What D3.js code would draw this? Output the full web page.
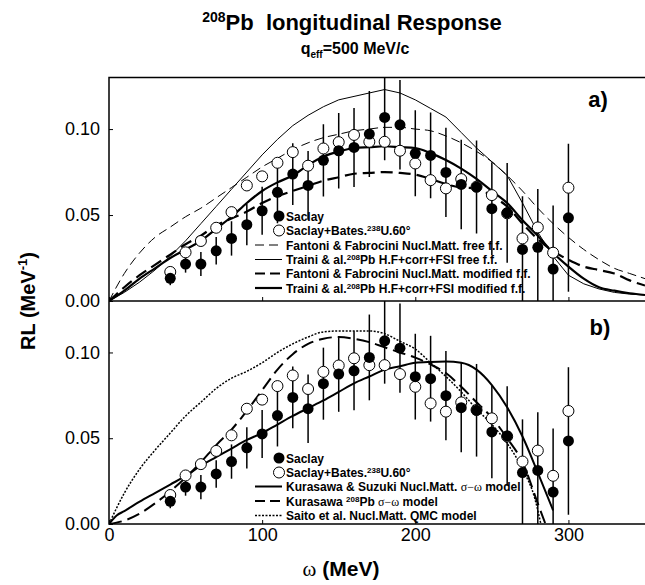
<!DOCTYPE html>
<html>
<head>
<meta charset="utf-8">
<script src="https://cdn.jsdelivr.net/npm/d3@7"></script>
<style>
  body { margin: 0; background: #fff; }
  svg { display: block; font-family: "Liberation Sans", Arial, sans-serif; }
</style>
</head>
<body>
<svg id="chart" width="645" height="585"></svg>
<script>
// --- data ---
const omega = [40, 50, 60, 70, 80, 90, 100, 110, 120, 130, 140, 150, 160, 170, 180,
               190, 200, 210, 220, 230, 240, 250, 260, 270, 280, 290, 300];
const saclay = [0.0132, 0.0215, 0.0215, 0.0292, 0.0364, 0.0444, 0.0525, 0.0632, 0.0738,
                0.0672, 0.0818, 0.0874, 0.0893, 0.0971, 0.1068, 0.1025, 0.0859, 0.0847,
                0.0748, 0.0678, 0.0663, 0.0537, 0.0513, 0.0300, 0.0312, 0.0186, 0.0484];
const saclayErr = [0.004, 0.005, 0.007, 0.008, 0.010, 0.012, 0.014, 0.018, 0.018, 0.020,
                   0.021, 0.022, 0.023, 0.025, 0.025, 0.026, 0.025, 0.025, 0.026, 0.026,
                   0.027, 0.027, 0.029, 0.031, 0.034, 0.037, 0.043];
const bates = [0.0169, 0.0283, 0.0349, 0.0426, 0.0517, 0.0672, 0.0725, 0.0804, 0.0866,
               0.0787, 0.0887, 0.0924, 0.0966, 0.0926, 0.0926, 0.0874, 0.0800, 0.0703,
               0.0655, 0.0709, 0.0665, 0.0616, 0.0510, 0.0364, 0.0428, 0.0281, 0.0659];

// theory curves, panel a
const gridA = [0, 10, 20, 30, 40, 50, 60, 70, 80, 90, 100, 110, 120, 130, 140, 150, 160, 170,
               180, 190, 200, 210, 220, 230, 240, 250, 260, 270, 280, 290, 300, 310, 320, 330, 340, 350];
const fantoniFree = [0, 0.016, 0.028, 0.037, 0.043, 0.049, 0.054, 0.060, 0.066, 0.072, 0.078, 0.083,
                     0.088, 0.092, 0.095, 0.097, 0.099, 0.100, 0.101, 0.101, 0.100, 0.099, 0.096, 0.092,
                     0.087, 0.081, 0.073, 0.064, 0.054, 0.045, 0.037, 0.030, 0.024, 0.019, 0.016, 0.013];
const trainiFree = [0, 0.005, 0.011, 0.018, 0.026, 0.035, 0.045, 0.055, 0.065, 0.075, 0.085, 0.094,
                    0.102, 0.108, 0.113, 0.117, 0.119, 0.121, 0.123, 0.121, 0.117, 0.112, 0.107, 0.098,
                    0.089, 0.081, 0.073, 0.057, 0.040, 0.026, 0.015, 0.010, 0.007, 0.005, 0.004, 0.0035];
const fantoniMod = [0, 0.008, 0.015, 0.021, 0.027, 0.033, 0.038, 0.044, 0.048, 0.052, 0.057, 0.061,
                    0.064, 0.067, 0.070, 0.072, 0.074, 0.0745, 0.075, 0.0745, 0.0735, 0.071, 0.068, 0.066,
                    0.0655, 0.061, 0.055, 0.045, 0.036, 0.029, 0.024, 0.020, 0.018, 0.016, 0.012, 0.009];
const trainiMod = [0, 0.006, 0.013, 0.019, 0.025, 0.030, 0.035, 0.042, 0.049, 0.057, 0.064, 0.069,
                   0.073, 0.079, 0.084, 0.087, 0.089, 0.0895, 0.090, 0.0895, 0.089, 0.086, 0.082, 0.077,
                   0.071, 0.064, 0.057, 0.047, 0.038, 0.028, 0.020, 0.013, 0.008, 0.006, 0.0045, 0.0035];

// theory curves, panel b
const gridKS = [0, 5, 10, 20, 30, 40, 50, 60, 70, 80, 90, 100, 110, 120, 130, 140, 150, 160, 170,
                180, 190, 200, 210, 220, 230, 240, 250, 260, 270, 280, 290];
const kurasawaSuzuki = [0, 0.005, 0.0075, 0.013, 0.018, 0.023, 0.028, 0.034, 0.039, 0.044, 0.049,
                        0.053, 0.058, 0.063, 0.0675, 0.072, 0.077, 0.082, 0.086, 0.090, 0.092, 0.094,
                        0.0945, 0.0947, 0.094, 0.090, 0.081, 0.068, 0.051, 0.030, 0.008];
const gridKP = [0, 10, 20, 30, 40, 50, 60, 70, 80, 90, 100, 110, 120, 130, 140, 150, 160, 170, 180,
                190, 200, 210, 220, 230, 240, 250, 260, 270, 280, 285];
const kurasawaPb = [0, 0.002, 0.006, 0.012, 0.019, 0.027, 0.036, 0.046, 0.055, 0.066, 0.078, 0.090,
                    0.099, 0.105, 0.108, 0.109, 0.108, 0.106, 0.103, 0.100, 0.097, 0.093, 0.088, 0.080,
                    0.071, 0.062, 0.050, 0.036, 0.012, 0];
const gridSaito = [0, 10, 20, 30, 40, 50, 60, 70, 80, 90, 100, 110, 120, 130, 140, 150, 160, 170, 180,
                   190, 200, 210, 220, 230, 240, 250, 260, 270, 278, 282];
const saito = [0, 0.018, 0.032, 0.043, 0.053, 0.063, 0.071, 0.079, 0.085, 0.089, 0.094, 0.100, 0.105,
               0.109, 0.112, 0.1125, 0.1125, 0.1125, 0.111, 0.1065, 0.102, 0.094, 0.086, 0.077, 0.067,
               0.058, 0.047, 0.032, 0.015, 0];

const yTicks = [0, 0.05, 0.10];
const xTicks = [0, 100, 200, 300];

// --- layout ---
const svg = d3.select('#chart');
const left = 109, right = 645;
const x = d3.scaleLinear().domain([0, 350]).range([left, right]);
const yA = d3.scaleLinear().domain([0, 0.13]).range([301, 77.5]);
const yB = d3.scaleLinear().domain([0, 0.13]).range([524, 301]);

svg.append('clipPath').attr('id', 'clipA')
  .append('rect').attr('x', left).attr('y', 77.5).attr('width', right - left).attr('height', 301 - 77.5);
svg.append('clipPath').attr('id', 'clipB')
  .append('rect').attr('x', left).attr('y', 301).attr('width', right - left).attr('height', 223);

const pts = omega.map((w, i) => ({ w, s: saclay[i], e: saclayErr[i], b: bates[i] }));
const zip = (g, v) => g.map((w, i) => [w, v[i]]);

function drawPanel(y, clipId, curves) {
  const g = svg.append('g').attr('clip-path', `url(#${clipId})`);
  curves.forEach(c => {
    const line = d3.line().x(d => x(d[0])).y(d => y(d[1]))
      .curve(c.linear ? d3.curveLinear : d3.curveMonotoneX);
    g.append('path').datum(c.data)
      .attr('d', line)
      .attr('fill', 'none')
      .attr('stroke', '#000')
      .attr('stroke-width', c.width)
      .attr('stroke-dasharray', c.dash || null);
  });
  // error bars (Saclay)
  g.selectAll('.err').data(pts).enter().append('line')
    .attr('x1', d => x(d.w)).attr('x2', d => x(d.w))
    .attr('y1', d => y(d.s - d.e)).attr('y2', d => y(d.s + d.e))
    .attr('stroke', '#000').attr('stroke-width', 1.5);
  g.selectAll('.open').data(pts).enter().append('circle')
    .attr('cx', d => x(d.w)).attr('cy', d => y(d.b)).attr('r', 5.5)
    .attr('fill', '#fff').attr('stroke', '#000').attr('stroke-width', 1);
  g.selectAll('.closed').data(pts).enter().append('circle')
    .attr('cx', d => x(d.w)).attr('cy', d => y(d.s)).attr('r', 5.5)
    .attr('fill', '#000');

  // axes
  const ya = svg.append('g').attr('transform', `translate(${left},0)`)
    .call(d3.axisLeft(y).tickValues(yTicks).tickFormat(d3.format('.2f'))
      .tickSizeInner(-4).tickSizeOuter(0).tickPadding(9));
  ya.select('.domain').remove();
  ya.selectAll('text').attr('font-size', 18).attr('font-family', '"Liberation Sans", Arial, sans-serif');
  return y;
}

drawPanel(yA, 'clipA', [
  { data: zip(gridA, fantoniFree), width: 1, dash: '9,5' },
  { data: zip(gridA, trainiFree), width: 1, linear: true },
  { data: zip(gridA, fantoniMod), width: 2.2, dash: '12,6' },
  { data: zip(gridA, trainiMod), width: 2.2 }
]);
drawPanel(yB, 'clipB', [
  { data: zip(gridKS, kurasawaSuzuki), width: 2 },
  { data: zip(gridKP, kurasawaPb), width: 2, dash: '13,6' },
  { data: zip(gridSaito, saito), width: 1.5, dash: '2,1.5' }
]);

// x axes (ticks on both panels, labels on the lower one)
[yA, yB].forEach((y, k) => {
  const xa = svg.append('g').attr('transform', `translate(0,${y(0)})`)
    .call(d3.axisBottom(x).tickValues(xTicks).tickSizeInner(-4).tickSizeOuter(0).tickPadding(4));
  xa.select('.domain').remove();
  xa.selectAll('text').attr('font-size', 18).attr('font-family', '"Liberation Sans", Arial, sans-serif')
    .style('display', k === 0 ? 'none' : null);
});

// frames
svg.append('rect').attr('x', left).attr('y', 77.5).attr('width', right - left + 2).attr('height', 524 - 77.5)
  .attr('fill', 'none').attr('stroke', '#000').attr('stroke-width', 1.5);
svg.append('line').attr('x1', left).attr('x2', right).attr('y1', 301).attr('y2', 301)
  .attr('stroke', '#000').attr('stroke-width', 1.5);

// --- texts ---
function richText(sel, parts) {
  parts.forEach(p => {
    const t = sel.append('tspan').text(p.t);
    if (p.sup) t.attr('font-size', p.sup).attr('dy', p.dy);
    if (p.back) t.attr('dy', p.back);
    if (p.sub) t.attr('font-size', p.sub).attr('dy', p.dy);
    if (p.family) t.attr('font-family', p.family).attr('font-weight', 'normal');
  });
}

const title = svg.append('text').attr('x', 352).attr('y', 30).attr('text-anchor', 'middle')
  .attr('font-weight', 'bold').attr('font-size', 22).attr('xml:space', 'preserve');
richText(title, [{ t: '208', sup: 14, dy: -8 }, { t: 'Pb  longitudinal Response', back: 8 }]);

const sub = svg.append('text').attr('x', 355).attr('y', 54).attr('text-anchor', 'middle')
  .attr('font-weight', 'bold').attr('font-size', 16);
richText(sub, [{ t: 'q' }, { t: 'eff', sub: 10, dy: 4 }, { t: '=500 MeV/c', back: -4 }]);

svg.append('text').attr('x', 598).attr('y', 107).attr('font-weight', 'bold').attr('font-size', 22)
  .attr('text-anchor', 'middle').text('a)');
svg.append('text').attr('x', 600).attr('y', 335).attr('font-weight', 'bold').attr('font-size', 22)
  .attr('text-anchor', 'middle').text('b)');

const yl = svg.append('text').attr('transform', 'translate(35,301) rotate(-90)')
  .attr('text-anchor', 'middle').attr('font-weight', 'bold').attr('font-size', 20);
richText(yl, [{ t: 'RL (MeV' }, { t: '-1', sup: 13, dy: -8 }, { t: ')', back: 8 }]);

const xl = svg.append('text').attr('x', 341).attr('y', 576).attr('text-anchor', 'middle')
  .attr('font-weight', 'bold').attr('font-size', 21);
richText(xl, [{ t: 'ω', family: '"Liberation Serif", serif' }, { t: ' (MeV)' }]);

// --- legends ---
const legX = 286, symX = 279;
function legend(rows) {
  rows.forEach(r => {
    if (r.marker === 'closed') {
      svg.append('circle').attr('cx', symX).attr('cy', r.y).attr('r', 5.5).attr('fill', '#000');
    } else if (r.marker === 'open') {
      svg.append('circle').attr('cx', symX).attr('cy', r.y).attr('r', 5.5)
        .attr('fill', '#fff').attr('stroke', '#000');
    } else {
      svg.append('line').attr('x1', 255).attr('x2', 282).attr('y1', r.y).attr('y2', r.y)
        .attr('stroke', '#000').attr('stroke-width', r.width).attr('stroke-dasharray', r.dash || null);
    }
    const t = svg.append('text').attr('x', legX).attr('y', r.y + 4.5)
      .attr('font-weight', 'bold').attr('font-size', 12);
    richText(t, r.parts);
  });
}

const sup = (s) => ({ t: s, sup: 8, dy: -4 });
const down = (s) => ({ t: s, back: 4 });
const sym = (s) => ({ t: s, family: '"Liberation Serif", serif' });

legend([
  { y: 216, marker: 'closed', parts: [{ t: 'Saclay' }] },
  { y: 230.5, marker: 'open', parts: [{ t: 'Saclay+Bates.' }, sup('238'), down('U.60°')] },
  { y: 245, width: 1, dash: '9,5', parts: [{ t: 'Fantoni & Fabrocini Nucl.Matt. free f.f.' }] },
  { y: 259.5, width: 1, parts: [{ t: 'Traini & al.' }, sup('208'), down('Pb H.F+corr+FSI free f.f.')] },
  { y: 273.5, width: 2.2, dash: '10,5', parts: [{ t: 'Fantoni & Fabrocini Nucl.Matt. modified f.f.' }] },
  { y: 288, width: 2.2, parts: [{ t: 'Traini & al.' }, sup('208'), down('Pb H.F+corr+FSI modified f.f.')] }
]);

legend([
  { y: 458, marker: 'closed', parts: [{ t: 'Saclay' }] },
  { y: 472.5, marker: 'open', parts: [{ t: 'Saclay+Bates.' }, sup('238'), down('U.60°')] },
  { y: 486.5, width: 2, parts: [{ t: 'Kurasawa & Suzuki Nucl.Matt. ' }, sym('σ−ω'), { t: ' model' }] },
  { y: 501, width: 2, dash: '10,5', parts: [{ t: 'Kurasawa  ' }, sup('208'), down('Pb '), sym('σ−ω'), { t: ' model' }] },
  { y: 515.5, width: 1.5, dash: '2,1.5', parts: [{ t: 'Saito et al. Nucl.Matt. QMC model' }] }
]);
</script>
</body>
</html>
